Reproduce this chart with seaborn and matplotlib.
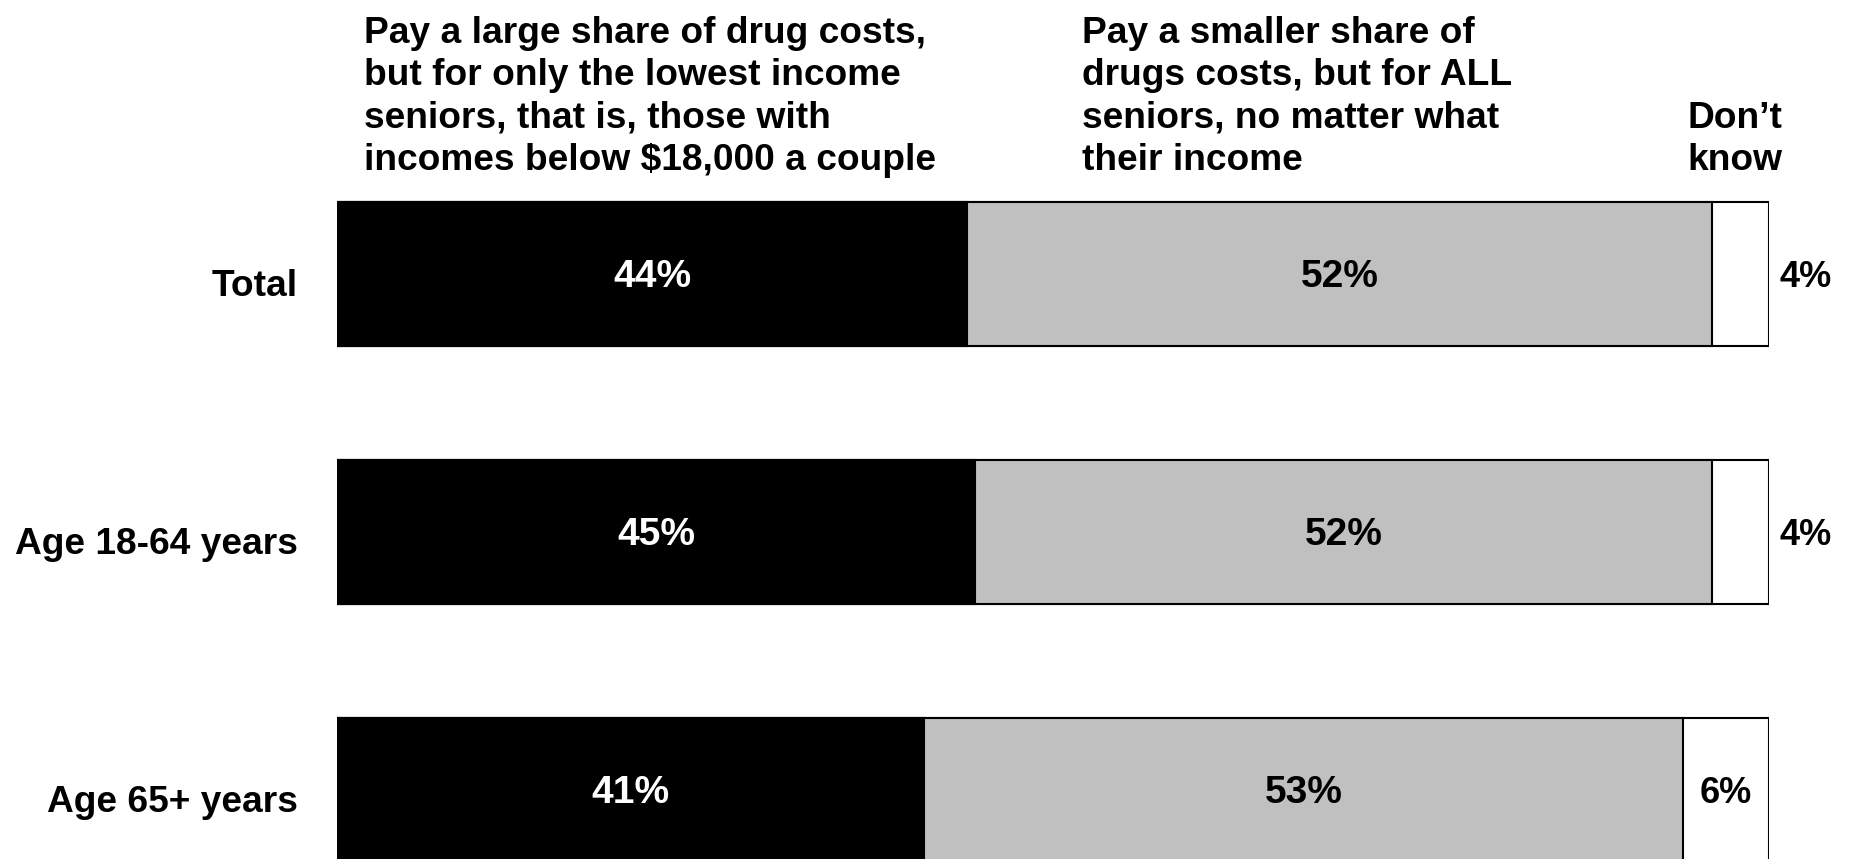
"""
Stacked horizontal bar chart: who should the drug benefit help.
"""

import pandas as pd
import seaborn as sns
import matplotlib.pyplot as plt
from matplotlib.transforms import ScaledTranslation

categories = ["Total", "Age 18-64 years", "Age 65+ years"]
low_income = [44, 45, 41]
all_seniors = [52, 52, 53]
dont_know = [4, 4, 6]

headers = [
    "Pay a large share of drug costs,\nbut for only the lowest income\nseniors, that is, those with\nincomes below $18,000 a couple",
    "Pay a smaller share of\ndrugs costs, but for ALL\nseniors, no matter what\ntheir income",
    "Don\u2019t\nknow",
]


def build_frame():
    """met les données en table et calcule les cumuls (normalisés à 100)"""
    df = pd.DataFrame({
        "Group": categories,
        "Low": low_income,
        "All": all_seniors,
        "DK": dont_know,
    })
    total = df[["Low", "All", "DK"]].sum(axis=1)
    df["low_end"] = df["Low"] / total * 100
    df["all_end"] = (df["Low"] + df["All"]) / total * 100
    df["dk_end"] = 100.0
    return df


def main():
    sns.set_style("white")
    plt.rcParams["font.family"] = ["Liberation Sans", "DejaVu Sans"]
    plt.rcParams["font.weight"] = "bold"
    plt.rcParams["text.color"] = "black"

    df = build_frame()

    fig = plt.figure(figsize=(18.52, 8.59), dpi=100)
    ax = fig.add_axes([337 / 1852, 0, 1432 / 1852, 1])

    # segments dessinés du plus long au plus court
    for col, color in [("dk_end", "white"), ("all_end", "#C0C0C0"), ("low_end", "black")]:
        sns.barplot(data=df, x=col, y="Group", order=categories, orient="h",
                    color=color, edgecolor="black", linewidth=1.5,
                    width=0.56, saturation=1, ax=ax)

    ax.set_xlim(0, 100)
    ax.set_ylim(2.267, -1.062)
    ax.set_xlabel("")
    ax.set_ylabel("")
    ax.set_xticks([])
    for s in ax.spines.values():
        s.set_visible(False)
    ax.tick_params(axis="y", length=0, pad=28, labelsize=26.7, labelcolor="black")
    shift = ScaledTranslation(0, -8 / 100, fig.dpi_scale_trans)
    for lab in ax.get_yticklabels():
        lab.set_fontweight("bold")
        lab.set_transform(lab.get_transform() + shift)

    # étiquettes des valeurs
    for i, row in df.iterrows():
        y = i + 0.012
        ax.text(row["low_end"] / 2, y, f"{row['Low']}%", color="white",
                ha="center", va="center", fontsize=28, fontweight="bold")
        ax.text((row["low_end"] + row["all_end"]) / 2, y, f"{row['All']}%",
                color="black", ha="center", va="center", fontsize=28, fontweight="bold")
        dk_w = 100 - row["all_end"]
        if dk_w >= 5:
            ax.text((row["all_end"] + 100) / 2, y, f"{row['DK']}%", color="black",
                    ha="center", va="center", fontsize=26, fontweight="bold")
        else:
            ax.text(100.7, y, f"{row['DK']}%", color="black", ha="left",
                    va="center", fontsize=26, fontweight="bold", clip_on=False)

    # en-têtes des colonnes
    for x, txt in zip([1.9, 52.0, 94.3], headers):
        ax.text(x, -0.372, txt, ha="left", va="bottom", multialignment="left",
                fontsize=26.7, fontweight="bold", linespacing=1.27, clip_on=False)

    fig.savefig("out.png", dpi=100)


if __name__ == "__main__":
    main()
